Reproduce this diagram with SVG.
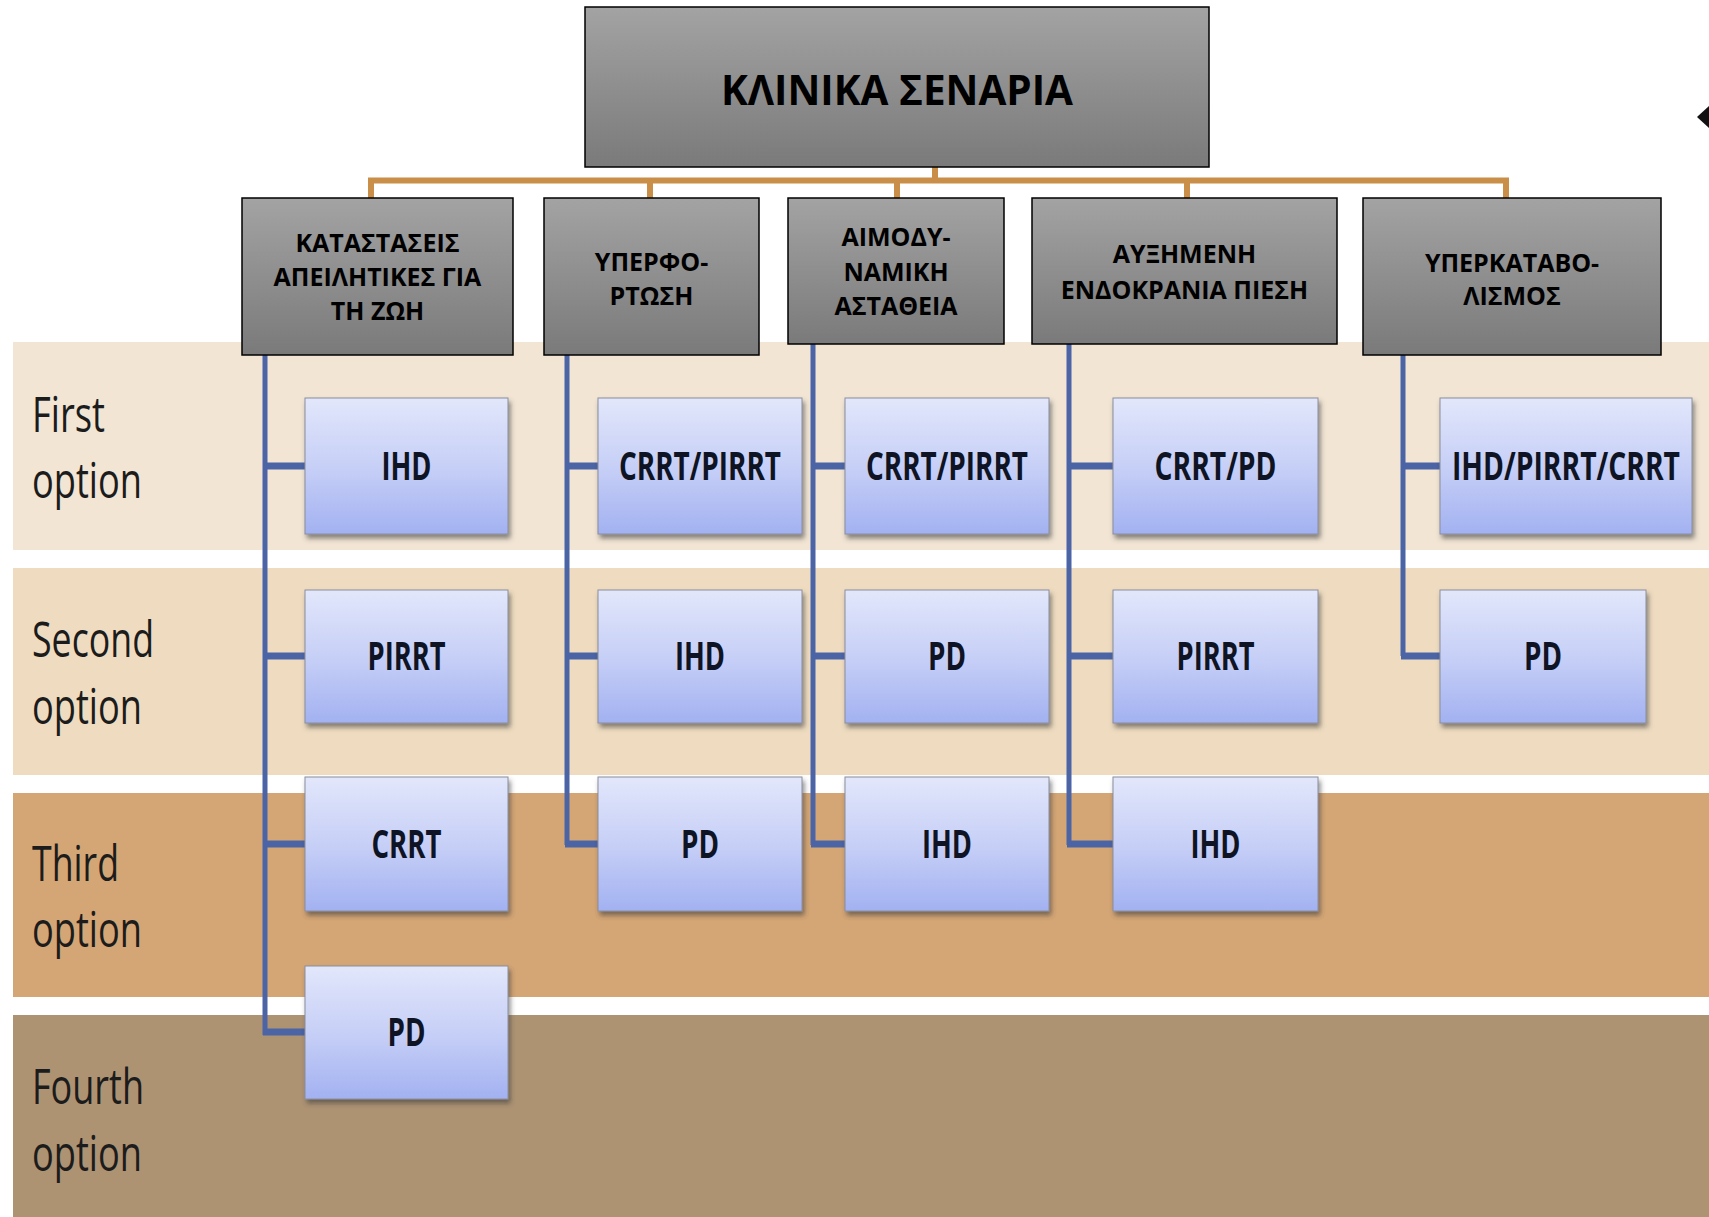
<svg xmlns="http://www.w3.org/2000/svg" width="1709" height="1217" viewBox="0 0 1709 1217">
<defs>
  <linearGradient id="gGrey" x1="0" y1="0" x2="0" y2="1">
    <stop offset="0" stop-color="#a3a3a3"/>
    <stop offset="1" stop-color="#7a7a7a"/>
  </linearGradient>
  <linearGradient id="gBlue" x1="0" y1="0" x2="0" y2="1">
    <stop offset="0" stop-color="#e2e7fb"/>
    <stop offset="0.55" stop-color="#c4cdf6"/>
    <stop offset="1" stop-color="#a2b1f1"/>
  </linearGradient>
  <filter id="sh" x="-10%" y="-10%" width="125%" height="130%">
    <feDropShadow dx="2" dy="4" stdDeviation="2.5" flood-color="#3a3a3a" flood-opacity="0.6"/>
  </filter>
</defs>
<style>
  .lbl { font-family: "Open Sans", "Liberation Sans", sans-serif; font-size: 49px; fill: #1c1c1c; }
  .cat rect { fill: url(#gGrey); stroke: #000; stroke-width: 1.5; }
  .cat text { font-family: "Open Sans", "Noto Sans", "Liberation Sans", sans-serif; font-weight: 700; font-size: 25px; fill: #000; text-anchor: middle; }
  .top text { font-size: 42px; }
  .opt rect { fill: url(#gBlue); stroke: #8a8e9e; stroke-width: 1; filter: url(#sh); }
  .opt text { font-family: "Open Sans", "Liberation Sans", sans-serif; font-weight: 700; font-size: 30px; fill: #0f1424; text-anchor: middle; }
  .org { stroke: #c98e48; stroke-width: 6; fill: none; }
  .bv { stroke: #4a64a6; stroke-width: 5; fill: none; }
  .bh { stroke: #4a64a6; stroke-width: 7; fill: none; }
</style>

<rect x="0" y="0" width="1709" height="1217" fill="#ffffff"/>

<g id="bands">
  <rect x="13" y="342" width="1696" height="208" fill="#f2e5d4"/>
  <rect x="13" y="568" width="1696" height="207" fill="#efdcc0"/>
  <rect x="13" y="793" width="1696" height="204" fill="#d5a675"/>
  <rect x="13" y="1015" width="1696" height="202" fill="#ae9373"/>
  <text class="lbl" x="32" y="432" textLength="73" lengthAdjust="spacingAndGlyphs">First</text>
  <text class="lbl" x="32" y="498" textLength="110" lengthAdjust="spacingAndGlyphs">option</text>
  <text class="lbl" x="32" y="657" textLength="122" lengthAdjust="spacingAndGlyphs">Second</text>
  <text class="lbl" x="32" y="724" textLength="110" lengthAdjust="spacingAndGlyphs">option</text>
  <text class="lbl" x="32" y="881" textLength="87" lengthAdjust="spacingAndGlyphs">Third</text>
  <text class="lbl" x="32" y="947" textLength="110" lengthAdjust="spacingAndGlyphs">option</text>
  <text class="lbl" x="32" y="1104" textLength="112" lengthAdjust="spacingAndGlyphs">Fourth</text>
  <text class="lbl" x="32" y="1171" textLength="110" lengthAdjust="spacingAndGlyphs">option</text>
</g>

<polygon points="1697,117 1709,106 1709,128" fill="#111"/>

<g id="connectors">
  <path class="org" d="M371,198 V180.5 H1506 V198 M650,180.5 V198 M897,180.5 V198 M1187,180.5 V198 M935,167 V180.5"/>
  <path class="bv" d="M265,355 V1035 M567,355 V845 M813,344 V845 M1069,344 V845 M1403,355 V656"/>
  <path class="bh" d="M263,466 H305 M263,656 H305 M263,844 H305 M263,1032 H305
                      M565,466 H598 M565,656 H598 M565,844 H598
                      M811,466 H845 M811,656 H845 M811,844 H845
                      M1067,466 H1113 M1067,656 H1113 M1067,844 H1113
                      M1401,466 H1440 M1401,656 H1440"/>
</g>

<g id="root" class="cat top">
  <rect x="585" y="7" width="624" height="160" stroke-width="2"/>
  <text x="897" y="105" textLength="352" lengthAdjust="spacingAndGlyphs">ΚΛΙΝΙΚΑ ΣΕΝΑΡΙΑ</text>
</g>

<g id="cat1" class="cat">
  <rect x="242" y="198" width="271" height="157"/>
  <text x="377.5" y="252">ΚΑΤΑΣΤΑΣΕΙΣ</text>
  <text x="377.5" y="286">ΑΠΕΙΛΗΤΙΚΕΣ ΓΙΑ</text>
  <text x="377.5" y="320">ΤΗ ΖΩΗ</text>
</g>
<g id="cat2" class="cat">
  <rect x="544" y="198" width="215" height="157"/>
  <text x="651.5" y="271">ΥΠΕΡΦΟ-</text>
  <text x="651.5" y="305">ΡΤΩΣΗ</text>
</g>
<g id="cat3" class="cat">
  <rect x="788" y="198" width="216" height="146"/>
  <text x="896" y="246">ΑΙΜΟΔΥ-</text>
  <text x="896" y="281">ΝΑΜΙΚΗ</text>
  <text x="896" y="315">ΑΣΤΑΘΕΙΑ</text>
</g>
<g id="cat4" class="cat">
  <rect x="1032" y="198" width="305" height="146"/>
  <text x="1184.5" y="263">ΑΥΞΗΜΕΝΗ</text>
  <text x="1184.5" y="299">ΕΝΔΟΚΡΑΝΙΑ ΠΙΕΣΗ</text>
</g>
<g id="cat5" class="cat">
  <rect x="1363" y="198" width="298" height="157"/>
  <text x="1512" y="272">ΥΠΕΡΚΑΤΑΒΟ-</text>
  <text x="1512" y="305">ΛΙΣΜΟΣ</text>
</g>

<!-- column 1 -->
<g id="c1r1" class="opt"><rect x="305" y="398" width="203" height="136"/><text transform="translate(406.5,480) scale(1,1.3)" textLength="50" lengthAdjust="spacingAndGlyphs">IHD</text></g>
<g id="c1r2" class="opt"><rect x="305" y="590" width="203" height="133"/><text transform="translate(406.5,670) scale(1,1.3)" textLength="78" lengthAdjust="spacingAndGlyphs">PIRRT</text></g>
<g id="c1r3" class="opt"><rect x="305" y="777" width="203" height="134"/><text transform="translate(406.5,858) scale(1,1.3)" textLength="70" lengthAdjust="spacingAndGlyphs">CRRT</text></g>
<g id="c1r4" class="opt"><rect x="305" y="966" width="203" height="133"/><text transform="translate(406.5,1046) scale(1,1.3)" textLength="38" lengthAdjust="spacingAndGlyphs">PD</text></g>

<!-- column 2 -->
<g id="c2r1" class="opt"><rect x="598" y="398" width="204" height="136"/><text transform="translate(700,480) scale(1,1.3)" textLength="162" lengthAdjust="spacingAndGlyphs">CRRT/PIRRT</text></g>
<g id="c2r2" class="opt"><rect x="598" y="590" width="204" height="133"/><text transform="translate(700,670) scale(1,1.3)" textLength="50" lengthAdjust="spacingAndGlyphs">IHD</text></g>
<g id="c2r3" class="opt"><rect x="598" y="777" width="204" height="134"/><text transform="translate(700,858) scale(1,1.3)" textLength="38" lengthAdjust="spacingAndGlyphs">PD</text></g>

<!-- column 3 -->
<g id="c3r1" class="opt"><rect x="845" y="398" width="204" height="136"/><text transform="translate(947,480) scale(1,1.3)" textLength="162" lengthAdjust="spacingAndGlyphs">CRRT/PIRRT</text></g>
<g id="c3r2" class="opt"><rect x="845" y="590" width="204" height="133"/><text transform="translate(947,670) scale(1,1.3)" textLength="38" lengthAdjust="spacingAndGlyphs">PD</text></g>
<g id="c3r3" class="opt"><rect x="845" y="777" width="204" height="134"/><text transform="translate(947,858) scale(1,1.3)" textLength="50" lengthAdjust="spacingAndGlyphs">IHD</text></g>

<!-- column 4 -->
<g id="c4r1" class="opt"><rect x="1113" y="398" width="205" height="136"/><text transform="translate(1215.5,480) scale(1,1.3)" textLength="122" lengthAdjust="spacingAndGlyphs">CRRT/PD</text></g>
<g id="c4r2" class="opt"><rect x="1113" y="590" width="205" height="133"/><text transform="translate(1215.5,670) scale(1,1.3)" textLength="78" lengthAdjust="spacingAndGlyphs">PIRRT</text></g>
<g id="c4r3" class="opt"><rect x="1113" y="777" width="205" height="134"/><text transform="translate(1215.5,858) scale(1,1.3)" textLength="50" lengthAdjust="spacingAndGlyphs">IHD</text></g>

<!-- column 5 -->
<g id="c5r1" class="opt"><rect x="1440" y="398" width="252" height="136"/><text transform="translate(1566,480) scale(1,1.3)" textLength="228" lengthAdjust="spacingAndGlyphs">IHD/PIRRT/CRRT</text></g>
<g id="c5r2" class="opt"><rect x="1440" y="590" width="206" height="133"/><text transform="translate(1543,670) scale(1,1.3)" textLength="38" lengthAdjust="spacingAndGlyphs">PD</text></g>
</svg>
